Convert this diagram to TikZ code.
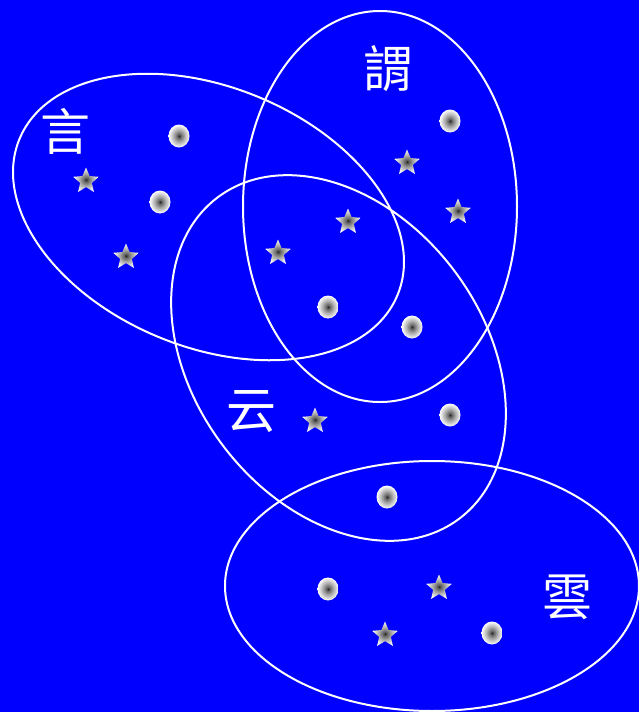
\documentclass[tikz,border=0pt]{standalone}
\usepackage{fontspec}
\newfontfamily\cjkfont{Noto Sans CJK TC}
\usetikzlibrary{shapes.geometric}
\definecolor{SetBlue}{HTML}{0000FF}
\pgfdeclareradialshading{ballshade}{\pgfpoint{0bp}{0bp}}{%
  color(0bp)=(black!90);
  color(3bp)=(black!65);
  color(12bp)=(black!35);
  color(22bp)=(black!8);
  color(25bp)=(white);
  color(50bp)=(white)}

\begin{document}
\begin{tikzpicture}[x=1pt,y=-1pt,
  setring/.style={draw=white,line width=2pt,ellipse,inner sep=0pt,outer sep=0pt},
  dotball/.style={ellipse,minimum width=21pt,minimum height=23pt,inner sep=0pt,shading=ballshade},
  starmark/.style={star,star points=5,star point ratio=2.2,minimum size=27pt,inner sep=0pt,shading=ballshade},
  setname/.style={text=white,font=\cjkfont\fontsize{50}{50}\selectfont,inner sep=0pt}
]
\fill[SetBlue] (0,0) rectangle (639,712);
\useasboundingbox (0,0) rectangle (639,712);
\clip (0,0) rectangle (639,712);

\node[setring,minimum width=409pt,minimum height=260pt,rotate=-22.4] (yanset) at (208.5,217) {};
\node[setring,minimum width=274pt,minimum height=391pt] (weiset) at (380,206.5) {};
\node[setring,minimum width=402pt,minimum height=290pt,rotate=-53.1] (yunset) at (338.5,358) {};
\node[setring,minimum width=414pt,minimum height=250pt] (cloudset) at (432,586) {};

\node[setname] (yan) at (65,131) {言};
\node[setname] (wei) at (388,69) {謂};
\node[setname] (yun) at (251,412) {云};
\node[setname] (cloud) at (567,597) {雲};

\node[dotball] (dot1) at (179,136) {};
\node[dotball] (dot2) at (160,202) {};
\node[dotball] (dot3) at (450,121) {};
\node[dotball] (dot4) at (328,307) {};
\node[dotball] (dot5) at (412,327) {};
\node[dotball] (dot6) at (450,415) {};
\node[dotball] (dot7) at (387,497) {};
\node[dotball] (dot8) at (328,589) {};
\node[dotball] (dot9) at (492,633) {};

\node[starmark] (star1) at (86,181) {};
\node[starmark] (star2) at (126,257) {};
\node[starmark] (star3) at (407,163) {};
\node[starmark] (star4) at (458,212) {};
\node[starmark] (star5) at (348,222) {};
\node[starmark] (star6) at (278,253) {};
\node[starmark] (star7) at (315,421) {};
\node[starmark] (star8) at (439,588) {};
\node[starmark] (star9) at (385,635) {};
\end{tikzpicture}
\end{document}
